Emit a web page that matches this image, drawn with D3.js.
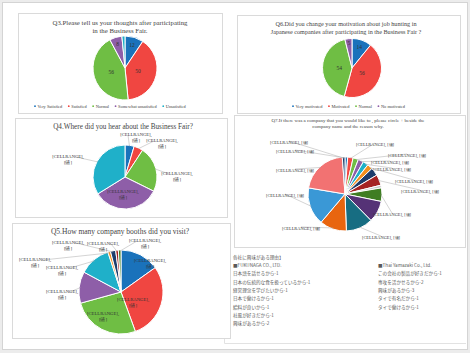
<!DOCTYPE html>
<meta charset="utf-8">
<script src="https://d3js.org/d3.v7.min.js"></script>
<style>
  body { margin: 0; background: #ececec; }
</style>
<div id="chart"></div>
<script>
// ---- data ----
var q3Cats = ["Very Satisfied", "Satisfied", "Normal", "Somewhat unsatisfied", "Unsatisfied"];
var q3Values = [12, 50, 56, 8, 2];

var q6Cats = ["Very motivated", "Motivated", "Normal", "No motivated"];
var q6Values = [14, 56, 54, 5];

var q4Values = [6, 6, 30, 44, 44];

var q5Values = [15, 29, 26, 12, 12, 1, 2, 1, 1];

var q7Values = [1, 2, 2, 2, 2, 2, 3, 4, 1, 5, 8, 10, 10, 14, 18, 1];

var cellLabel = ["[CELLRANGE],", "[値]"];

var reasonTitle = "各社に興味がある理由】";
var reasonsLeft = ["■FUKUNAGA CO., LTD.", "日本語を話せるから-1", "日本の伝統的な食を扱っているから-1",
  "経営理念を学びたいから-1", "日本で働けるから-1", "給料が良いから-1", "社風が好きだから-1", "興味があるから-2"];
var reasonsRight = ["■Thai Yamazaki Co., Ltd.", "この会社の製品が好きだから-1", "専攻を活かせるから-2",
  "興味があるから-3", "タイで有名だから-1", "タイで働けるから-1"];

// ---- styles ----
var base = ["#1a72bb", "#f04641", "#6fbe44", "#8e5ea8", "#1fb0c9"];
var q5Colors = base.concat(["#f2901f", "#1d3d6c", "#a52222", "#3f7d23"]);
var q7Colors = ["#1a72bb", "#f04641", "#6fbe44", "#8e5ea8", "#1fb0c9", "#f2901f", "#1d3d6c", "#a52222",
  "#c8c8c8", "#3f7d23", "#553276", "#176d82", "#e8650f", "#3a98d6", "#f27272", "#1d3d6c"];
var serif = "'Liberation Serif', 'DejaVu Serif', serif";
var cjk = "'Noto Sans CJK JP', sans-serif";

var W = 470, H = 353;
var svg = d3.select("#chart").append("svg")
  .attr("width", W).attr("height", H);

// page frame
svg.append("rect").attr("x", 2.5).attr("y", 2.5).attr("width", 465).attr("height", 347)
  .attr("fill", "#fff").attr("stroke", "#d4d4d4");

function panel(x, y, w, h) {
  svg.append("rect").attr("x", x + 1).attr("y", y + 1).attr("width", w).attr("height", h)
    .attr("fill", "#f1f1f1");
  svg.append("rect").attr("x", x + 0.5).attr("y", y + 0.5).attr("width", w).attr("height", h)
    .attr("fill", "#fff").attr("stroke", "#dadada");
}

function title(lines, cx, y, size, lh) {
  lines.forEach(function(t, i) {
    svg.append("text").attr("x", cx).attr("y", y + i * lh)
      .attr("text-anchor", "middle")
      .style("font-family", serif).style("font-size", size + "px").style("fill", "#444")
      .text(t);
  });
}

// draws the pie and returns a helper to place things around it
function pieChart(cx, cy, r, values, colors) {
  var g = svg.append("g").attr("transform", "translate(" + cx + "," + cy + ")");
  var arcs = d3.pie().sort(null).value(function(d) { return d; })(values);
  var arc = d3.arc().innerRadius(0).outerRadius(r);
  g.selectAll("path").data(arcs).enter().append("path")
    .attr("d", arc)
    .attr("fill", function(d, i) { return colors[i]; })
    .attr("stroke", "#fff").attr("stroke-width", 1);
  return { g: g, arcs: arcs, r: r };
}

function mid(a) { return (a.startAngle + a.endAngle) / 2; }

// value label inside slice
function valueLabels(p, factors) {
  p.arcs.forEach(function(a, i) {
    if (!factors[i]) return;
    var ang = mid(a), rr = p.r * factors[i];
    p.g.append("text").attr("x", Math.sin(ang) * rr).attr("y", -Math.cos(ang) * rr + 2)
      .attr("text-anchor", "middle")
      .style("font-family", serif).style("font-size", "5.5px").style("fill", "#333")
      .text(a.value);
  });
}

// [CELLRANGE] labels; spots: [slice, dx, dy] relative to pie centre
function cellLabels(p, spots, twoLines, size) {
  spots.forEach(function(s) {
    var a = p.arcs[s[0]], ang = mid(a);
    var ex = Math.sin(ang) * p.r, ey = -Math.cos(ang) * p.r;
    var dist = Math.sqrt(s[1] * s[1] + s[2] * s[2]);
    if (dist > p.r * 1.05) {
      p.g.append("line").attr("x1", ex * 0.97).attr("y1", ey * 0.97)
        .attr("x2", s[1] + (s[1] < ex ? 8 : -8) * (twoLines ? 1 : 0)).attr("y2", s[2] - 1)
        .attr("stroke", "#a8a8a8").attr("stroke-width", 0.5);
    }
    var t = p.g.append("text").attr("text-anchor", "middle")
      .style("font-family", serif).style("font-size", size + "px").style("fill", "#333");
    if (twoLines) {
      t.append("tspan").attr("x", s[1]).attr("y", s[2]).text(cellLabel[0]);
      t.append("tspan").attr("x", s[1]).attr("y", s[2] + size * 1.25).text(cellLabel[1]);
    } else {
      t.attr("x", s[1]).attr("y", s[2] + 1.5).text(cellLabel.join(" "));
    }
  });
}

function legend(cats, colors, x0, y, gap) {
  var x = x0;
  cats.forEach(function(c, i) {
    svg.append("circle").attr("cx", x).attr("cy", y - 1.3).attr("r", 0.9).attr("fill", colors[i]);
    var t = svg.append("text").attr("x", x + 2.5).attr("y", y)
      .style("font-family", serif).style("font-size", "4.4px").style("fill", "#404040")
      .text(c);
    x += t.node().getComputedTextLength() + 2.5 + gap;
  });
}

// ---- panels ----
// faint box behind the reasons text
svg.append("path").attr("d", "M224.5,322V343.5H466")
  .attr("fill", "none").attr("stroke", "#e2e2e2");

panel(18, 13, 204, 100);
panel(237, 15, 223, 98);
panel(15, 118, 212, 99);
panel(234, 115, 231, 132);
panel(12, 223, 218, 115);

// Q3
title(["Q3.Please tell us your thoughts after participating", "in the Business Fair."], 120, 25, 6.8, 8);
var p3 = pieChart(125, 68, 32, q3Values, base);
valueLabels(p3, [0.75, 0.42, 0.45, 0.8, 0]);
legend(q3Cats, base, 35, 107.5, 6.5);

// Q6
title(["Q6.Did you change your motivation about job hunting in",
  "Japanese companies after participating in the Business Fair ?"], 346, 26, 6.2, 8);
var p6 = pieChart(352, 68, 29.5, q6Values, base);
valueLabels(p6, [0.74, 0.38, 0.43, 0.87]);
legend(q6Cats, base, 293, 107.5, 6.5);

// Q4
title(["Q4.Where did you hear about the Business Fair?"], 123, 129, 7.2, 8);
var p4 = pieChart(125, 177, 32, q4Values, base);
cellLabels(p4, [[0, 11, -41], [1, 37, -35], [2, 52, -2], [3, -2, 16], [4, -57, -19]], true, 4.6);

// Q7
title(["Q7.If there was a company that you would like to , please circle + beside the",
  "company name and the reason why."], 348, 122, 5, 6);
var p7 = pieChart(345, 194, 37, q7Values, q7Colors);
cellLabels(p7, [[15, -56, -52], [0, -50, -43], [1, 30, -50], [2, 62, -39], [3, 45, -32], [4, 47, -25],
  [5, 69, -13], [7, 75, -3], [9, 47, 20], [11, 36, 43], [12, -44, 34], [13, -60, 1], [14, -50, -24]], false, 4.4);

// Q5
title(["Q5.How many company booths did you visit?"], 120, 234, 7.5, 8);
var p5 = pieChart(121, 292, 42, q5Values, q5Colors);
cellLabels(p5, [[0, 29, -30], [1, 12, 9], [2, -18, 23], [3, -59, 1], [4, -59, -23],
  [5, -86, -31], [6, -53, -48], [7, -18, -47], [8, 24, -50]], true, 4.7);

// reasons text block
var tx = svg.append("g").style("font-family", cjk).style("font-size", "4.6px").style("fill", "#5a5a5a");
tx.append("text").attr("x", 233).attr("y", 259).text(reasonTitle);
reasonsLeft.forEach(function(t, i) {
  tx.append("text").attr("x", 233).attr("y", 267 + i * 8.3).text(t);
});
reasonsRight.forEach(function(t, i) {
  tx.append("text").attr("x", 378).attr("y", 267 + i * 8.3).text(t);
});
</script>
